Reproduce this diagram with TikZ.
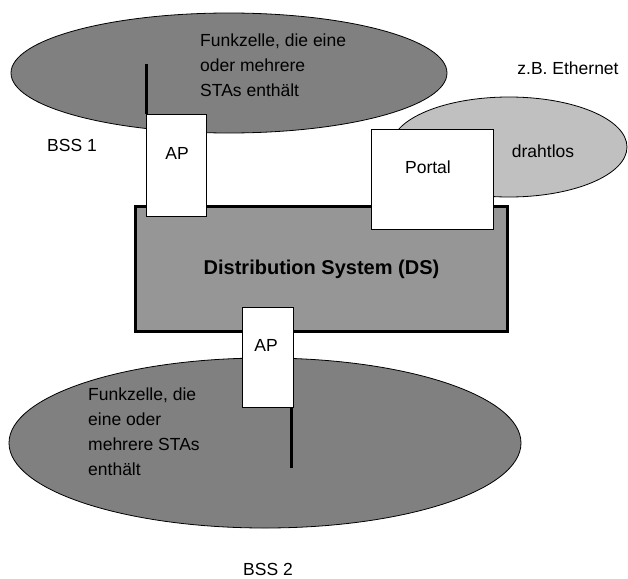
\documentclass[tikz,border=0pt]{standalone}
\usepackage{fontspec}
\setmainfont{Liberation Sans}
\usetikzlibrary{calc}
\definecolor{cellgray}{HTML}{808080}
\definecolor{wiregray}{HTML}{C0C0C0}
\definecolor{dsgray}{HTML}{969696}
\begin{document}
\begin{tikzpicture}[x=1pt, y=-1pt, font=\fontsize{17.5}{25}\selectfont,
	cell/.style={draw=black, line width=0.8pt, fill=cellgray},
	box/.style={draw=black, line width=0.8pt, fill=white, inner sep=0pt},
	dsbox/.style={draw=black, line width=3pt, fill=dsgray, inner sep=0pt},
	antenna/.style={line width=3pt}]
	\useasboundingbox (0,0) rectangle (628,578);
	% Funkzellen
	\draw[cell] (229,73) ellipse [x radius=218, y radius=60];
	\draw[cell, fill=wiregray] (509,147) ellipse [x radius=118, y radius=50];
	\draw[cell] (265,443) ellipse [x radius=256, y radius=85];
	% Distribution System
	\node[dsbox, minimum width=372pt, minimum height=125pt, font=\fontsize{20}{25}\selectfont\bfseries] (ds) at (321.5,269) {Distribution System (DS)};
	% Access Points und Portal
	\node[box, minimum width=60pt, minimum height=102pt] (ap1) at (176,165) {};
	\node[box, minimum width=122pt, minimum height=100pt] (portal) at (432,179) {};
	\node[box, minimum width=51pt, minimum height=100pt] (ap2) at (267.5,357) {};
	\coordinate (ant1) at (146,64);
	\coordinate (ant2) at (291,468);
	\draw[antenna] (ant1) -- (ant1 |- ap1.north);
	\draw[antenna] (ant2) -- (ant2 |- ap2.south);
	% Beschriftungen
	\node (aplabel1) at (177,153) {AP};
	\node (portallabel) at (428,167) {Portal};
	\node (aplabel2) at (266,345) {AP};
	\node[anchor=north west, align=left, inner sep=0pt] (cell1) at (200,34) {Funkzelle, die eine\\oder mehrere\\STAs enth\"alt};
	\node[anchor=north west, align=left, inner sep=0pt] (cell2) at (88,388) {Funkzelle, die\\eine oder\\mehrere STAs\\enth\"alt};
	\node (bss1) at (72,145) {BSS 1};
	\node[inner sep=0.5pt] (bss2) at (268,569) {BSS 2};
	\node (ethernet) at (568,68) {z.B. Ethernet};
	\node (wireless) at (543,151) {drahtlos};
\end{tikzpicture}
\end{document}
